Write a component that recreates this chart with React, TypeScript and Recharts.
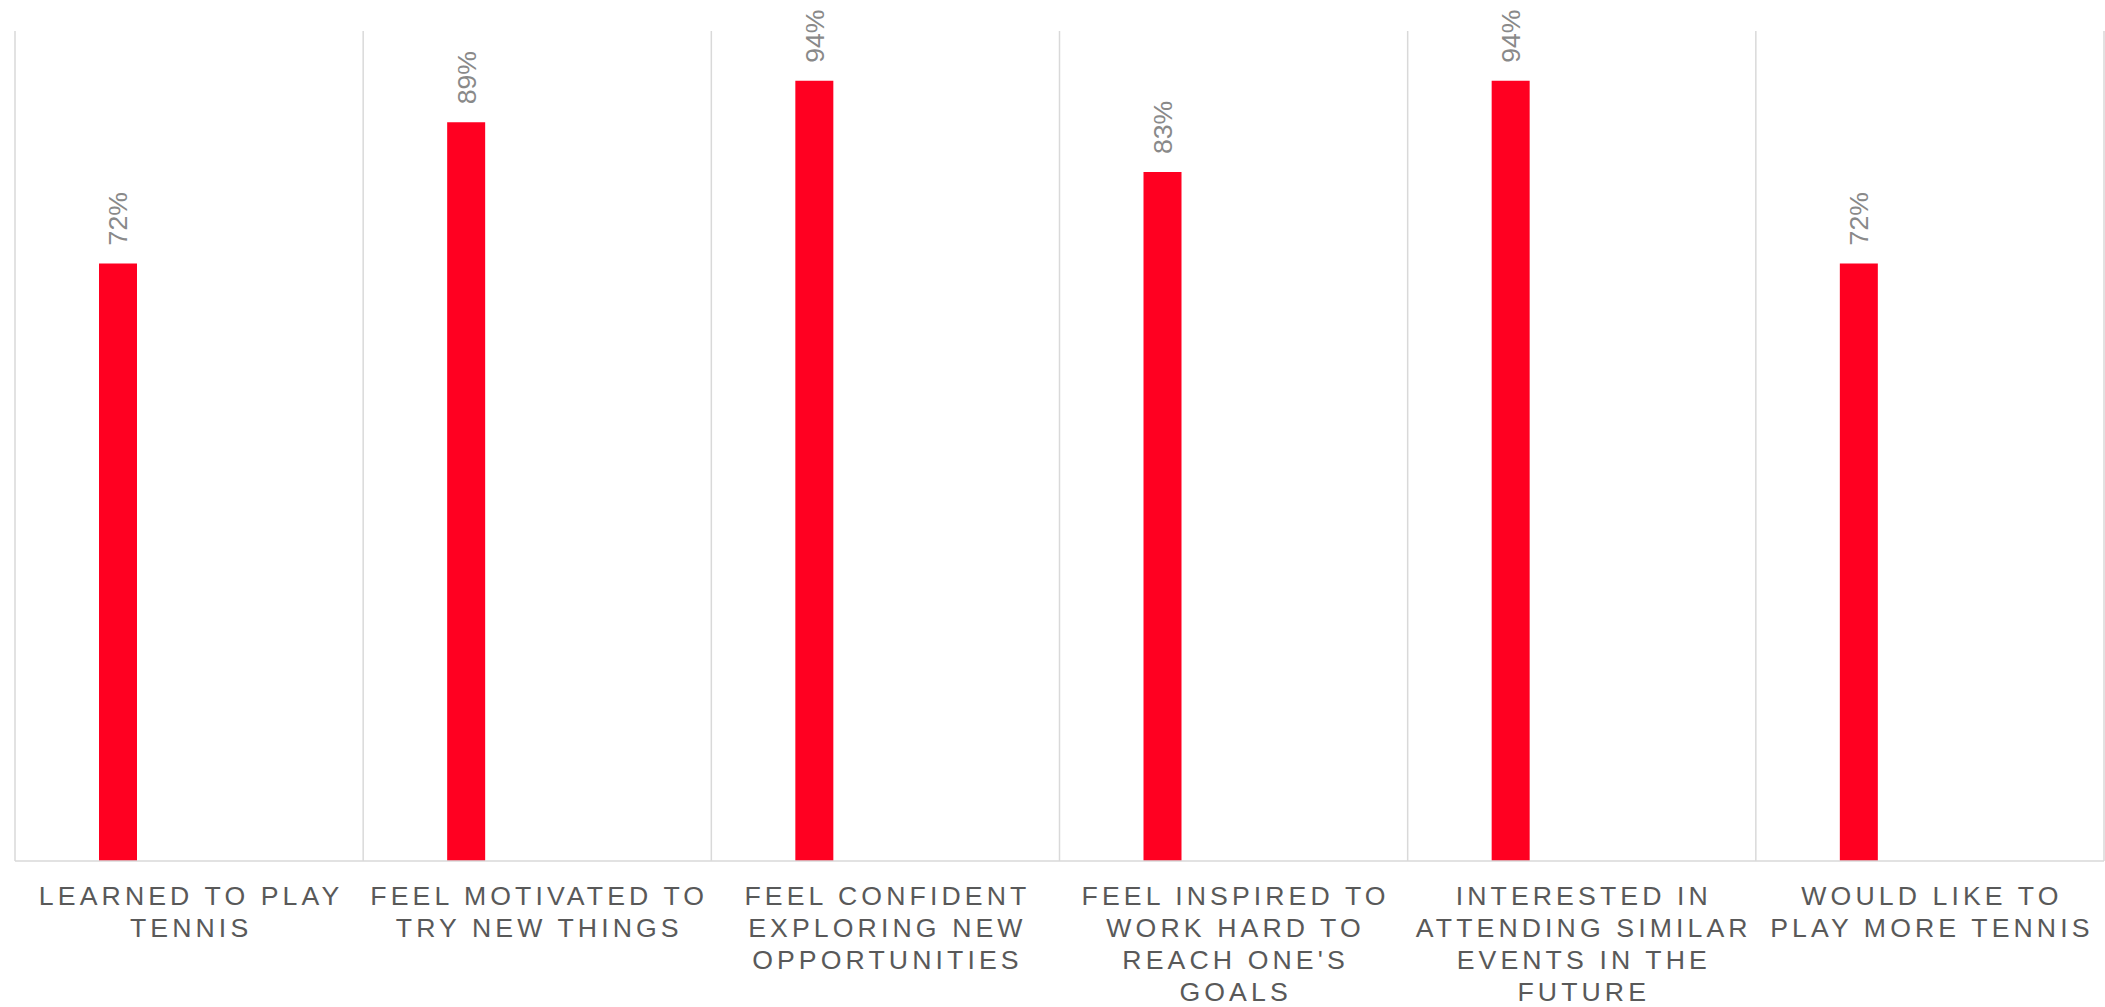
import React from "react";
import { BarChart, Bar, XAxis, YAxis, CartesianGrid, LabelList } from "recharts";

const categories: string[] = [
  "LEARNED TO PLAY\nTENNIS",
  "FEEL MOTIVATED TO\nTRY NEW THINGS",
  "FEEL CONFIDENT\nEXPLORING NEW\nOPPORTUNITIES",
  "FEEL INSPIRED TO\nWORK HARD TO\nREACH ONE'S\nGOALS",
  "INTERESTED IN\nATTENDING SIMILAR\nEVENTS IN THE\nFUTURE",
  "WOULD LIKE TO\nPLAY MORE TENNIS",
];

const values: number[] = [72, 89, 94, 83, 94, 72];

const yTicks: number[] = [0, 100];

const data = categories.map((name, i) => ({ name, value: values[i] }));

const FONT = "'Liberation Sans', Arial, sans-serif";

const CategoryTick = (props: any) => {
  const { x, y, payload } = props;
  const lines = String(payload.value).split("\n");
  return (
    <g transform={`translate(${x},${y})`}>
      <text
        textAnchor="middle"
        fill="#595959"
        fontFamily={FONT}
        fontSize={26.67}
        letterSpacing={4.1}
      >
        {lines.map((line: string, i: number) => (
          <tspan key={i} x={2} y={44 + i * 32}>
            {line}
          </tspan>
        ))}
      </text>
    </g>
  );
};

const ValueLabel = (props: any) => {
  const { x, y, width, value } = props;
  const cx = x + width / 2 + 9.5;
  const ty = y - 18;
  return (
    <text
      x={cx}
      y={ty}
      transform={`rotate(-90 ${cx} ${ty})`}
      textAnchor="start"
      fill="#898989"
      fontFamily={FONT}
      fontSize={26.67}
    >
      {`${value}%`}
    </text>
  );
};

export default function App() {
  return (
    <div style={{ width: 2105, height: 1007, background: "#ffffff" }}>
      <style>{"body{margin:0;overflow:hidden;}"}</style>
      <BarChart
        width={2105}
        height={1007}
        data={data}
        margin={{ top: 31, right: 1, left: 15, bottom: 0 }}
        barGap={0}
      >
        <CartesianGrid
          horizontal={false}
          stroke="#d9d9d9"
          strokeWidth={1.5}
          verticalCoordinatesGenerator={(args: any) => {
            const { offset } = args;
            const n = categories.length;
            return Array.from({ length: n + 1 }, (_, i) => offset.left + (i * offset.width) / n);
          }}
        />
        <XAxis
          dataKey="name"
          interval={0}
          height={146}
          tickLine={false}
          tickSize={0}
          tickMargin={0}
          axisLine={{ stroke: "#d9d9d9", strokeWidth: 1.5 }}
          tick={<CategoryTick />}
        />
        <YAxis hide domain={[0, 100]} ticks={yTicks} width={0} />
        <Bar dataKey="value" fill="#ff0021" barSize={38} isAnimationActive={false}>
          <LabelList dataKey="value" content={<ValueLabel />} />
        </Bar>
        <Bar dataKey="spacer" fill="none" barSize={143} isAnimationActive={false} />
      </BarChart>
    </div>
  );
}
